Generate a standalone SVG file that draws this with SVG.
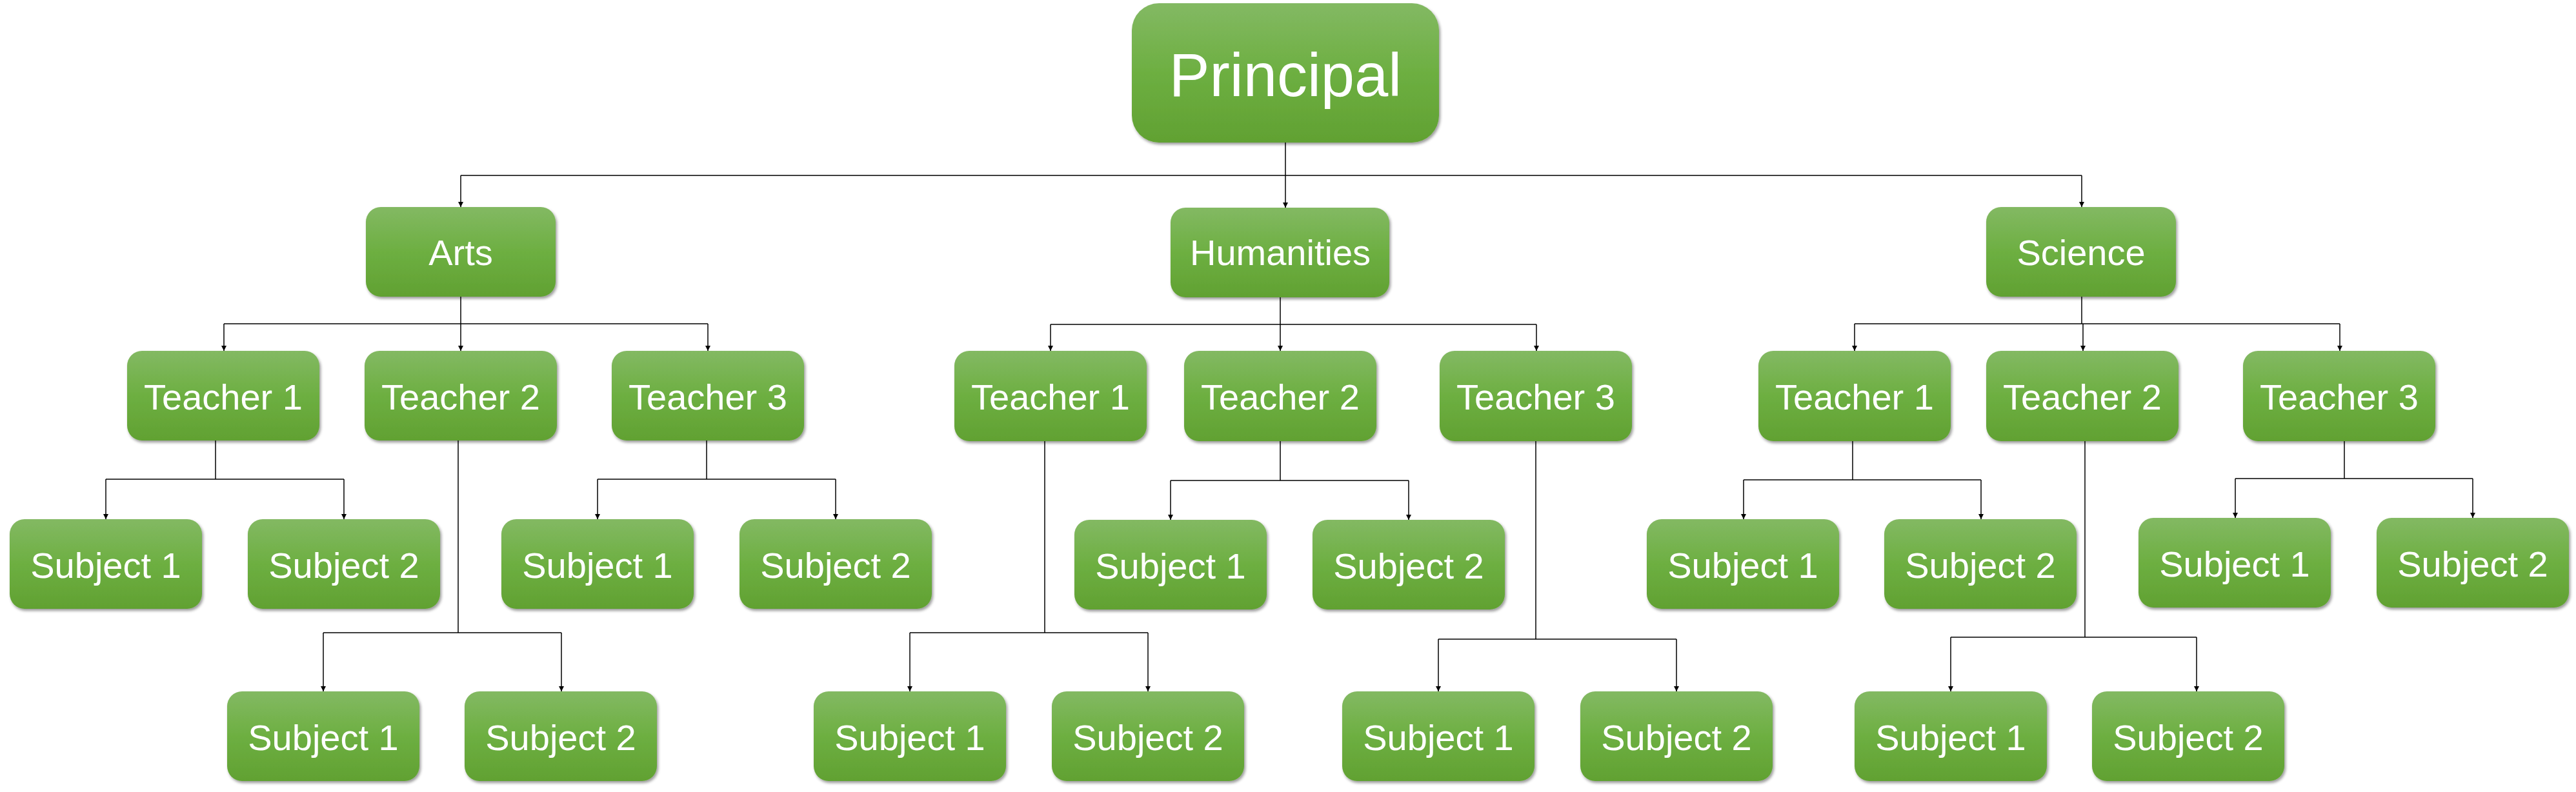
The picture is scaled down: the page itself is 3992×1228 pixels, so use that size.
<svg xmlns="http://www.w3.org/2000/svg" width="3992" height="1228" viewBox="0 0 3992 1228">
<defs>
<linearGradient id="g" x1="0" y1="0" x2="0" y2="1">
<stop offset="0" stop-color="#83b963"/>
<stop offset="0.5" stop-color="#6daf41"/>
<stop offset="1" stop-color="#61a132"/>
</linearGradient>
<filter id="sh" x="-5%" y="-5%" width="115%" height="120%">
<feDropShadow dx="2" dy="3" stdDeviation="2" flood-color="#000" flood-opacity="0.4"/>
</filter>
<marker id="ar" markerUnits="userSpaceOnUse" viewBox="0 0 8 8" refX="8" refY="4" markerWidth="8" markerHeight="8" orient="auto">
<path d="M0,0 L8,4 L0,8 z" fill="#000"/>
</marker>
<style>
.n rect{fill:url(#g);filter:url(#sh)}
.n text{fill:#fff;font-family:"Liberation Sans",Arial,sans-serif;font-size:56px;text-anchor:middle}
.c path{fill:none;stroke:#000;stroke-width:1.5}
.c path.a{marker-end:url(#ar)}
</style>
</defs>
<rect width="3992" height="1228" fill="#fff"/>
<g id="connectors" class="c">
<path d="M1992,221 V272 M714,272 H3226"/>
<path class="a" d="M714,272 V321"/>
<path class="a" d="M1992,272 V322"/>
<path class="a" d="M3226,272 V321"/>
<path d="M714,460 V502 M347,502 H1097"/>
<path class="a" d="M347,502 V544"/>
<path class="a" d="M714,502 V544"/>
<path class="a" d="M1097,502 V544"/>
<path d="M1984,461 V503 M1628,503 H2381"/>
<path class="a" d="M1628,503 V544"/>
<path class="a" d="M1984,503 V544"/>
<path class="a" d="M2381,503 V544"/>
<path d="M3226,460 V502 M2874,502 H3626"/>
<path class="a" d="M2874,502 V544"/>
<path class="a" d="M3228,502 V544"/>
<path class="a" d="M3626,502 V544"/>
<path d="M334,683 V743 M164,743 H533"/>
<path class="a" d="M164,743 V805"/>
<path class="a" d="M533,743 V805"/>
<path d="M710,683 V981 M501,981 H870"/>
<path class="a" d="M501,981 V1072"/>
<path class="a" d="M870,981 V1072"/>
<path d="M1095,683 V743 M926,743 H1295"/>
<path class="a" d="M926,743 V805"/>
<path class="a" d="M1295,743 V805"/>
<path d="M1619,684 V981 M1410,981 H1779"/>
<path class="a" d="M1410,981 V1072"/>
<path class="a" d="M1779,981 V1072"/>
<path d="M1984,684 V745 M1814,745 H2183"/>
<path class="a" d="M1814,745 V806"/>
<path class="a" d="M2183,745 V806"/>
<path d="M2380,684 V991 M2229,991 H2598"/>
<path class="a" d="M2229,991 V1072"/>
<path class="a" d="M2598,991 V1072"/>
<path d="M2871,684 V744 M2702,744 H3070"/>
<path class="a" d="M2702,744 V805"/>
<path class="a" d="M3070,744 V805"/>
<path d="M3231,684 V988 M3023,988 H3404"/>
<path class="a" d="M3023,988 V1072"/>
<path class="a" d="M3404,988 V1072"/>
<path d="M3633,684 V742 M3464,742 H3832"/>
<path class="a" d="M3464,742 V803"/>
<path class="a" d="M3832,742 V803"/>
</g>
<g id="principal" class="n"><rect x="1754" y="5" width="476" height="216" rx="42"/><text x="1992" y="149" style="font-size:94px">Principal</text></g>
<g id="arts" class="n"><rect x="567" y="321" width="294" height="139" rx="23"/><text x="714" y="411">Arts</text></g>
<g id="humanities" class="n"><rect x="1814" y="322" width="339" height="139" rx="23"/><text x="1984" y="411">Humanities</text></g>
<g id="science" class="n"><rect x="3078" y="321" width="294" height="139" rx="23"/><text x="3225" y="411">Science</text></g>
<g id="arts-t1" class="n"><rect x="197" y="544" width="298" height="139" rx="23"/><text x="346" y="635">Teacher 1</text></g>
<g id="arts-t2" class="n"><rect x="565" y="544" width="298" height="139" rx="23"/><text x="714" y="635">Teacher 2</text></g>
<g id="arts-t3" class="n"><rect x="948" y="544" width="298" height="139" rx="23"/><text x="1097" y="635">Teacher 3</text></g>
<g id="hum-t1" class="n"><rect x="1479" y="544" width="298" height="140" rx="23"/><text x="1628" y="635">Teacher 1</text></g>
<g id="hum-t2" class="n"><rect x="1835" y="544" width="298" height="140" rx="23"/><text x="1984" y="635">Teacher 2</text></g>
<g id="hum-t3" class="n"><rect x="2231" y="544" width="298" height="140" rx="23"/><text x="2380" y="635">Teacher 3</text></g>
<g id="sci-t1" class="n"><rect x="2725" y="544" width="298" height="140" rx="23"/><text x="2874" y="635">Teacher 1</text></g>
<g id="sci-t2" class="n"><rect x="3078" y="544" width="298" height="140" rx="23"/><text x="3227" y="635">Teacher 2</text></g>
<g id="sci-t3" class="n"><rect x="3476" y="544" width="298" height="140" rx="23"/><text x="3625" y="635">Teacher 3</text></g>
<g id="arts-t1-s1" class="n"><rect x="15" y="805" width="298" height="139" rx="23"/><text x="164" y="896">Subject 1</text></g>
<g id="arts-t1-s2" class="n"><rect x="384" y="805" width="298" height="139" rx="23"/><text x="533" y="896">Subject 2</text></g>
<g id="arts-t3-s1" class="n"><rect x="777" y="805" width="298" height="139" rx="23"/><text x="926" y="896">Subject 1</text></g>
<g id="arts-t3-s2" class="n"><rect x="1146" y="805" width="298" height="139" rx="23"/><text x="1295" y="896">Subject 2</text></g>
<g id="hum-t2-s1" class="n"><rect x="1665" y="806" width="298" height="139" rx="23"/><text x="1814" y="897">Subject 1</text></g>
<g id="hum-t2-s2" class="n"><rect x="2034" y="806" width="298" height="139" rx="23"/><text x="2183" y="897">Subject 2</text></g>
<g id="sci-t1-s1" class="n"><rect x="2552" y="805" width="298" height="139" rx="23"/><text x="2701" y="896">Subject 1</text></g>
<g id="sci-t1-s2" class="n"><rect x="2920" y="805" width="298" height="139" rx="23"/><text x="3069" y="896">Subject 2</text></g>
<g id="sci-t3-s1" class="n"><rect x="3314" y="803" width="298" height="139" rx="23"/><text x="3463" y="894">Subject 1</text></g>
<g id="sci-t3-s2" class="n"><rect x="3683" y="803" width="298" height="139" rx="23"/><text x="3832" y="894">Subject 2</text></g>
<g id="arts-t2-s1" class="n"><rect x="352" y="1072" width="298" height="139" rx="23"/><text x="501" y="1163">Subject 1</text></g>
<g id="arts-t2-s2" class="n"><rect x="720" y="1072" width="298" height="139" rx="23"/><text x="869" y="1163">Subject 2</text></g>
<g id="hum-t1-s1" class="n"><rect x="1261" y="1072" width="298" height="139" rx="23"/><text x="1410" y="1163">Subject 1</text></g>
<g id="hum-t1-s2" class="n"><rect x="1630" y="1072" width="298" height="139" rx="23"/><text x="1779" y="1163">Subject 2</text></g>
<g id="hum-t3-s1" class="n"><rect x="2080" y="1072" width="298" height="139" rx="23"/><text x="2229" y="1163">Subject 1</text></g>
<g id="hum-t3-s2" class="n"><rect x="2449" y="1072" width="298" height="139" rx="23"/><text x="2598" y="1163">Subject 2</text></g>
<g id="sci-t2-s1" class="n"><rect x="2874" y="1072" width="298" height="139" rx="23"/><text x="3023" y="1163">Subject 1</text></g>
<g id="sci-t2-s2" class="n"><rect x="3242" y="1072" width="298" height="139" rx="23"/><text x="3391" y="1163">Subject 2</text></g>
</svg>
